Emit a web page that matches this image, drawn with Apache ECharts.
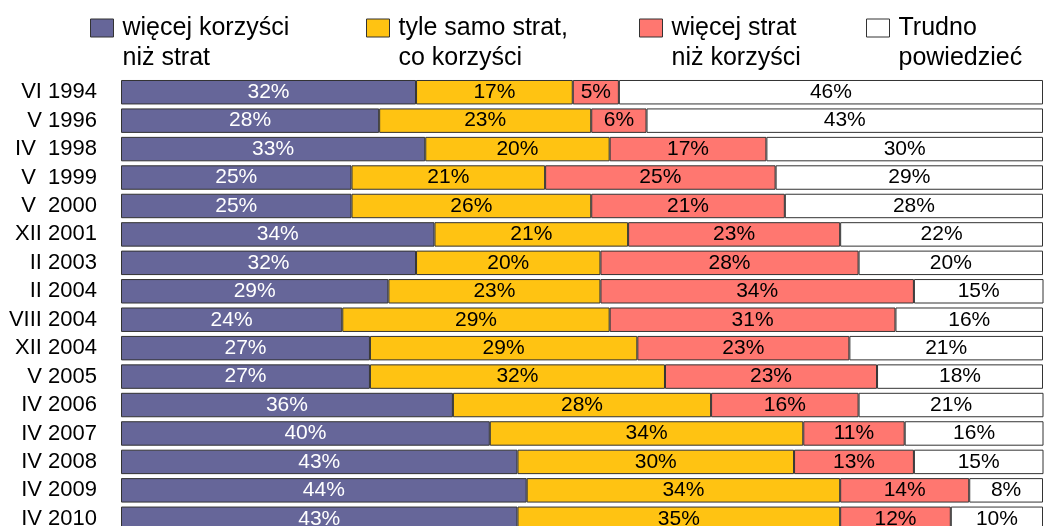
<!DOCTYPE html>
<html><head><meta charset="utf-8">
<script src="https://cdn.jsdelivr.net/npm/echarts@6/dist/echarts.min.js"></script>
<style>html,body{margin:0;padding:0;background:#fff;overflow:hidden;width:1044px;height:526px}#c{width:1044px;height:534px}</style>
</head><body><div id="c"></div>
<script>
var categories = ['VI 1994','V 1996','IV  1998','V  1999','V  2000','XII 2001','II 2003','II 2004','VIII 2004','XII 2004','V 2005','IV 2006','IV 2007','IV 2008','IV 2009','IV 2010'];
var seriesNames = ['więcej korzyści\nniż strat','tyle samo strat,\nco korzyści','więcej strat\nniż korzyści','Trudno\npowiedzieć'];
var moreBenefits = [32,28,33,25,25,34,32,29,24,27,27,36,40,43,44,43];
var equal        = [17,23,20,21,26,21,20,23,29,29,32,28,34,30,34,35];
var moreLosses   = [5,6,17,25,21,23,28,34,31,23,23,16,11,13,14,12];
var hardToSay    = [46,43,30,29,28,22,20,15,16,21,18,21,16,15,8,10];

var colors = ['#666699','#FFC312','#FF7770','#FFFFFF'];
var labelColors = ['#FFFFFF','#000000','#000000','#000000'];
var values = [moreBenefits, equal, moreLosses, hardToSay];
var FONT = '"Liberation Sans", Arial, sans-serif';

var series = values.map(function(v,i){
  return {
    name: seriesNames[i], type:'bar', stack:'total', data:v,
    barCategoryGap:'14%',
    itemStyle:{color:colors[i], borderColor:'#333', borderWidth:1},
    label:{show:true, position:'inside', formatter:'{c}%', color:labelColors[i], fontSize:21, fontFamily:FONT},
    emphasis:{disabled:true}
  };
});

var legendLeft = [90, 366, 639, 866];
var legends = seriesNames.map(function(n,i){
  return {
    data:[n], left:legendLeft[i], top:-17, padding:0, selectedMode:false,
    icon:'rect', itemWidth:23, itemHeight:18,
    itemStyle:{borderColor:'#333', borderWidth:1},
    formatter:function(name){ return '\n' + name; },
    textStyle:{fontSize:25, fontFamily:FONT, color:'#000', lineHeight:30, padding:[0,0,0,4]}
  };
});

var chart = echarts.init(document.getElementById('c'), null, {renderer:'canvas'});
chart.setOption({
  animation:false,
  legend: legends,
  grid:{left:121, top:78, right:1, bottom:1},
  xAxis:{type:'value', min:0, max:100, show:false},
  yAxis:{type:'category', data:categories, inverse:true,
    axisLine:{show:false}, axisTick:{show:false},
    axisLabel:{interval:0, fontSize:22, fontFamily:FONT, color:'#000', margin:24}},
  series: series
});
</script></body></html>
